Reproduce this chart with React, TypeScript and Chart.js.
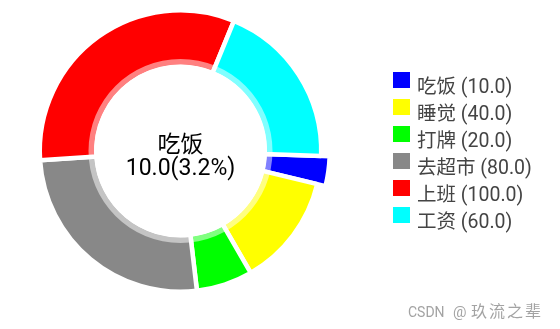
import React, { useEffect, useRef } from "react";
import { Chart, registerables } from "chart.js";

Chart.register(...registerables);

const labels = ["吃饭", "睡觉", "打牌", "去超市", "上班", "工资"];
const values = [10, 40, 20, 80, 100, 60];
const colors = ["#0000ff", "#ffff00", "#00ff00", "#888888", "#ff0000", "#00ffff"];
const highlightIndex = 0;
const watermarkA = "CSDN";
const watermarkB = "@";
const watermarkC = "玖流之辈";

const FONT = "Roboto, 'Noto Sans CJK SC', sans-serif";

export default function App() {
  const ref = useRef<HTMLCanvasElement | null>(null);

  useEffect(() => {
    const canvas = ref.current;
    if (!canvas) return;
    const total = values.reduce((a, b) => a + b, 0);

    const highlightPlugin = {
      id: "highlight",
      afterDatasetsUpdate(chart: any) {
        const el = chart.getDatasetMeta(0).data[highlightIndex];
        if (el) el.outerRadius += 8.5;
      },
    };

    const overlayPlugin = {
      id: "overlay",
      afterDatasetsDraw(chart: any) {
        const ctx = chart.ctx;
        const el = chart.getDatasetMeta(0).data[0];
        const cx = el.x;
        const cy = el.y;
        ctx.save();
        ctx.beginPath();
        ctx.arc(cx, cy, 92, 0, Math.PI * 2);
        ctx.arc(cx, cy, 86.5, 0, Math.PI * 2, true);
        ctx.fillStyle = "rgba(255,255,255,0.5)";
        ctx.fill("evenodd");
        ctx.beginPath();
        ctx.arc(cx, cy, 86.5, 0, Math.PI * 2);
        ctx.fillStyle = "#ffffff";
        ctx.fill();

        // center text
        ctx.fillStyle = "#000000";
        ctx.textAlign = "center";
        ctx.textBaseline = "alphabetic";
        ctx.font = `23px ${FONT}`;
        const v = values[highlightIndex];
        ctx.fillText(labels[highlightIndex], cx, 152);
        ctx.fillText(`${v.toFixed(1)}(${((v / total) * 100).toFixed(1)}%)`, cx, 175);

        // legend
        ctx.textAlign = "left";
        ctx.font = `19.5px ${FONT}`;
        labels.forEach((lab, i) => {
          const top = 71.7 + i * 27;
          ctx.fillStyle = colors[i];
          ctx.fillRect(393, Math.round(top), 17, 16);
          ctx.fillStyle = "#444444";
          ctx.fillText(`${lab} (${values[i].toFixed(1)})`, 417, top + 21.6);
        });

        // watermark
        ctx.fillStyle = "#a3a3a3";
        ctx.textAlign = "left";
        ctx.font = `14px ${FONT}`;
        ctx.fillText(watermarkA, 408, 316.5);
        ctx.font = `15px ${FONT}`;
        ctx.fillText(watermarkB, 453, 316.5);
        ctx.font = `16px ${FONT}`;
        (ctx as any).letterSpacing = "2px";
        ctx.fillText(watermarkC, 471, 317);
        (ctx as any).letterSpacing = "0px";
        ctx.restore();
      },
    };

    const chart = new Chart(canvas, {
      type: "doughnut",
      data: {
        labels,
        datasets: [
          {
            data: values,
            backgroundColor: colors,
            borderColor: "#ffffff",
            borderWidth: 4.5,
            hoverOffset: 0,
          },
        ],
      },
      options: {
        responsive: false,
        animation: false,
        radius: 140.75,
        cutout: "59.86%",
        rotation: 92,
        layout: { padding: { left: 0, right: 199, top: 0, bottom: 27 } },
        plugins: {
          legend: { display: false },
          tooltip: { enabled: false },
        },
        events: [],
      },
      plugins: [highlightPlugin, overlayPlugin],
    });
    return () => chart.destroy();
  }, []);

  return (
    <canvas
      ref={ref}
      width={560}
      height={329}
      style={{ position: "fixed", left: 0, top: 0, display: "block" }}
    />
  );
}
